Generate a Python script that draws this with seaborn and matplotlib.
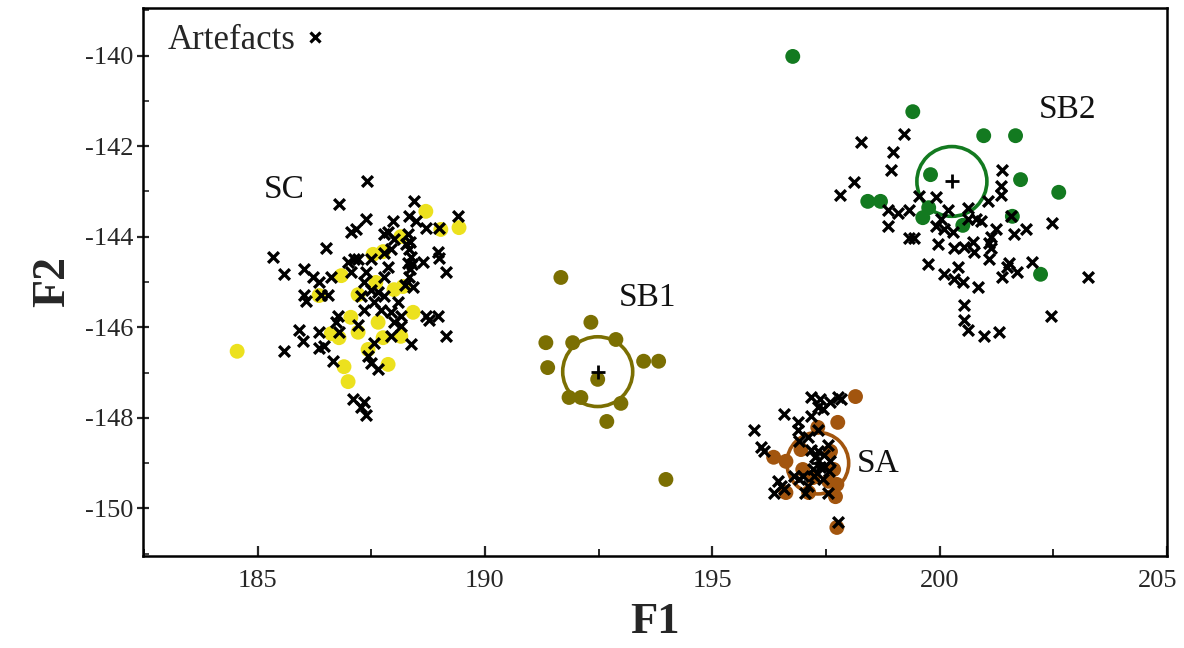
import matplotlib
matplotlib.use("Agg")
import matplotlib.pyplot as plt
from matplotlib.patches import Circle
from matplotlib.ticker import MultipleLocator
from matplotlib.lines import Line2D
from matplotlib.transforms import ScaledTranslation
import seaborn as sns
import pandas as pd

# ---------------- data ----------------
sc_artefacts = [(187.41,-142.76),(186.79,-143.27),(187.05,-143.89),(187.16,-143.84),(186.51,-144.24),
    (185.34,-144.44),(185.58,-144.83),(186.02,-144.72),(186.22,-144.90),(186.35,-145.01),(186.62,-144.88),
    (186.99,-144.55),(187.12,-144.50),(187.05,-144.79),(186.02,-145.28),(186.07,-145.43),(186.40,-145.28),
    (186.55,-145.28),(186.77,-145.76),(186.73,-145.89),(185.91,-146.05),(186.00,-146.31),(186.35,-146.11),
    (186.79,-146.11),(187.21,-145.94),(186.35,-146.45),(186.46,-146.42),(185.58,-146.53),(186.66,-146.75),
    (187.10,-147.59),(187.27,-147.75),(187.38,-147.93),(187.34,-147.66),(188.44,-143.22),(187.38,-143.62),
    (188.33,-143.55),(188.48,-143.66),(187.98,-143.66),(187.87,-143.89),(187.78,-143.95),(188.70,-143.80),
    (188.99,-143.80),(189.41,-143.55),(188.31,-143.95),(188.35,-144.11),(188.33,-144.28),(188.37,-144.44),
    (188.31,-144.57),(188.35,-144.72),(188.33,-144.88),(188.26,-144.17),(188.40,-144.61),(188.24,-145.06),
    (188.97,-144.33),(188.99,-144.46),(188.64,-144.55),(189.14,-144.79),(188.00,-144.06),(187.93,-144.28),
    (187.78,-144.35),(187.49,-144.50),(187.21,-144.50),(187.38,-144.79),(187.34,-145.01),(187.78,-144.88),
    (187.87,-144.66),(188.42,-145.12),(187.49,-145.17),(187.65,-145.23),(187.78,-145.32),(187.56,-145.45),
    (187.27,-145.32),(187.34,-145.61),(187.71,-145.61),(187.93,-145.67),(188.09,-145.45),(188.15,-145.76),
    (188.00,-145.89),(188.15,-145.98),(188.70,-145.76),(188.77,-145.83),(188.97,-145.76),(187.93,-146.20),
    (187.56,-146.34),(188.37,-146.38),(189.14,-146.20),(187.43,-146.64),(187.49,-146.78),(187.65,-146.93)]

sa_artefacts = [(197.17,-147.55),(197.38,-147.59),(197.76,-147.53),(197.60,-147.66),(197.83,-147.59),
    (197.32,-147.75),(197.43,-147.81),(197.17,-147.97),(196.57,-147.92),(196.88,-148.10),(195.91,-148.26),
    (196.88,-148.26),(197.32,-148.26),(197.10,-148.43),(196.90,-148.52),(196.07,-148.65),(196.13,-148.74),
    (197.17,-148.70),(197.32,-148.74),(197.45,-148.81),(197.54,-148.59),(197.27,-148.87),(197.60,-148.96),
    (197.38,-149.09),(197.21,-149.14),(196.79,-149.29),(196.44,-149.40),(196.51,-149.51),(196.35,-149.65),
    (196.57,-149.58),(196.90,-149.36),(197.10,-149.51),(196.99,-149.29),(197.23,-149.29),(197.43,-149.36),
    (197.54,-149.65),(197.05,-149.65),(197.76,-150.31),(197.45,-149.09),(197.56,-149.18)]

sb2_artefacts = [(198.27,-141.90),(199.21,-141.74),(198.97,-142.14),(198.92,-142.52),(198.11,-142.80),
    (197.82,-143.07),(198.86,-143.40),(199.08,-143.47),(199.32,-143.40),(199.54,-143.11),(199.91,-143.13),
    (198.86,-143.77),(199.32,-144.02),(199.43,-144.02),(199.91,-143.77),(200.02,-143.62),(200.18,-143.40),
    (200.09,-143.84),(200.29,-143.89),(199.96,-144.17),(200.31,-144.24),(200.53,-144.22),(199.74,-144.61),
    (200.40,-144.66),(200.09,-144.83),(200.31,-144.94),(200.51,-145.01),(200.53,-145.50),(200.53,-145.83),
    (200.62,-146.05),(200.62,-143.36),(200.62,-143.62),(201.38,-142.52),(201.34,-142.89),(201.34,-143.07),
    (201.06,-143.22),(200.79,-143.62),(200.90,-143.66),(201.56,-143.55),(201.23,-143.84),(201.12,-144.00),
    (201.08,-144.13),(201.12,-144.24),(201.63,-143.95),(201.89,-143.84),(202.48,-143.69),(200.73,-144.11),
    (200.75,-144.33),(201.08,-144.50),(201.52,-144.57),(201.49,-144.66),(201.71,-144.79),(201.38,-144.88),
    (202.04,-144.55),(200.84,-145.12),(203.27,-144.88),(200.97,-146.20),(201.30,-146.11),(202.44,-145.76)]

sc_samples = [(184.55,-146.53),(186.35,-145.30),(186.84,-144.86),(187.05,-145.78),(187.21,-146.11),
    (186.62,-146.14),(186.79,-146.23),(186.90,-146.87),(186.99,-147.20),(188.70,-143.44),(189.03,-143.84),
    (189.43,-143.80),(188.15,-144.00),(187.54,-144.39),(187.76,-144.33),(187.60,-145.01),(188.20,-145.10),
    (188.00,-145.17),(187.21,-145.28),(188.42,-145.67),(187.65,-145.89),(188.15,-146.20),(187.76,-146.23),
    (187.87,-146.82),(187.43,-146.49)]

sb1_samples = [(191.67,-144.90),(192.33,-145.89),(191.34,-146.34),(191.93,-146.34),(192.88,-146.27),
    (191.38,-146.89),(193.49,-146.75),(193.82,-146.75),(192.48,-147.15),(191.85,-147.55),(192.11,-147.55),
    (192.99,-147.68),(192.68,-148.08),(193.98,-149.36)]

sa_samples = [(198.15,-147.53),(197.76,-148.10),(197.32,-148.21),(196.35,-148.87),(196.62,-148.96),
    (196.95,-148.70),(197.60,-148.74),(197.67,-149.14),(196.99,-149.14),(197.21,-149.32),(197.56,-149.40),
    (197.74,-149.47),(196.62,-149.65),(197.12,-149.65),(197.71,-149.74),(197.74,-150.42)]

sb2_samples = [(196.77,-140.02),(199.41,-141.24),(200.97,-141.77),(201.67,-141.77),(199.80,-142.63),
    (201.78,-142.74),(202.62,-143.02),(198.42,-143.22),(198.70,-143.22),(199.76,-143.36),(199.63,-143.58),
    (200.51,-143.75),(201.60,-143.55),(202.22,-144.83)]

group_names = ["SC", "SB1", "SA", "SB2"]
group_colors = {"SC": "#ECE11E", "SB1": "#7B6F02", "SA": "#A2550E", "SB2": "#137A20"}
centroids = {"SB1": (192.48, -146.98), "SA": (197.32, -149.00), "SB2": (200.27, -142.78)}
radii = {"SB1": 0.77, "SA": 0.68, "SB2": 0.77}
label_pos = {"SC": (185.58, -142.96), "SB1": (193.58, -145.34), "SA": (198.64, -149.01), "SB2": (202.81, -141.19)}

x_ticks = [185, 190, 195, 200, 205]
y_ticks = [-150, -148, -146, -144, -142, -140]

# ---------------- build frames ----------------
samples = pd.DataFrame(
    [(x, y, g) for g, pts in zip(group_names, [sc_samples, sb1_samples, sa_samples, sb2_samples]) for x, y in pts],
    columns=["F1", "F2", "group"])
artefacts = pd.DataFrame(sc_artefacts + sa_artefacts + sb2_artefacts, columns=["F1", "F2"])
cent_df = pd.DataFrame([(k, v[0], v[1]) for k, v in centroids.items()], columns=["group", "F1", "F2"])

# ---------------- plot ----------------
sns.set_theme(style="white")
plt.rcParams["font.family"] = ["Liberation Serif", "DejaVu Serif"]
plt.rcParams["axes.unicode_minus"] = False

fig = plt.figure(figsize=(11.84, 6.48), dpi=100)
ax = fig.add_axes([0.1208, 0.142, 0.8648, 0.8457])

sns.scatterplot(data=samples, x="F1", y="F2", hue="group", palette=group_colors,
                s=115, edgecolor="none", linewidth=0, legend=False, ax=ax, zorder=2)

for g in ["SB1", "SA", "SB2"]:
    cx, cy = centroids[g]
    ax.add_patch(Circle((cx, cy), radii[g], fill=False, edgecolor=group_colors[g], linewidth=2.6, zorder=3))

sns.scatterplot(data=artefacts, x="F1", y="F2", marker="x", color="black",
                s=60, linewidth=2.4, ax=ax, zorder=4, legend=False)

sns.scatterplot(data=cent_df, x="F1", y="F2", marker="+", color="black",
                s=110, linewidth=2.0, ax=ax, zorder=5, legend=False)

for g, (lx, ly) in label_pos.items():
    ax.text(lx, ly, g, fontsize=24, ha="center", va="center", color="#111111")

handle = Line2D([], [], linestyle="none", marker="x", color="black", markersize=7, markeredgewidth=2.3)
leg = ax.legend([handle], ["Artefacts"], loc="center left", bbox_to_anchor=(0.024, 0.94),
                frameon=False, markerfirst=False, fontsize=25, handletextpad=0.15,
                borderaxespad=0.0, borderpad=0.0, handlelength=0.8)

ax.set_xlim(182.48, 205.0)
ax.set_ylim(-151.05, -138.95)
ax.set_xticks(x_ticks)
ax.set_yticks(y_ticks)
ax.xaxis.set_minor_locator(MultipleLocator(2.5))
ax.yaxis.set_minor_locator(MultipleLocator(1))
ax.tick_params(axis="x", which="major", direction="in", length=7, width=1.6, labelsize=19, pad=10, bottom=True)
ax.tick_params(axis="x", which="minor", direction="in", length=5, width=1.4, bottom=True)
ax.tick_params(axis="y", which="major", direction="inout", length=8, width=1.6, labelsize=19, pad=3, left=True)
ax.tick_params(axis="y", which="minor", direction="in", length=4, width=1.2, left=True)

# the last x tick label sits slightly left of its tick in the reference
last_lbl = ax.get_xticklabels()[-1]
last_lbl.set_transform(last_lbl.get_transform() + ScaledTranslation(-9 / 100, 0, fig.dpi_scale_trans))

for sp in ax.spines.values():
    sp.set_color("black")
    sp.set_linewidth(1.8)

ax.set_xlabel("F1", fontsize=32, fontweight="bold", labelpad=7)
ax.set_ylabel("F2", fontsize=33, fontweight="bold", labelpad=8)

fig.savefig("out.png", dpi=100, facecolor="white")
